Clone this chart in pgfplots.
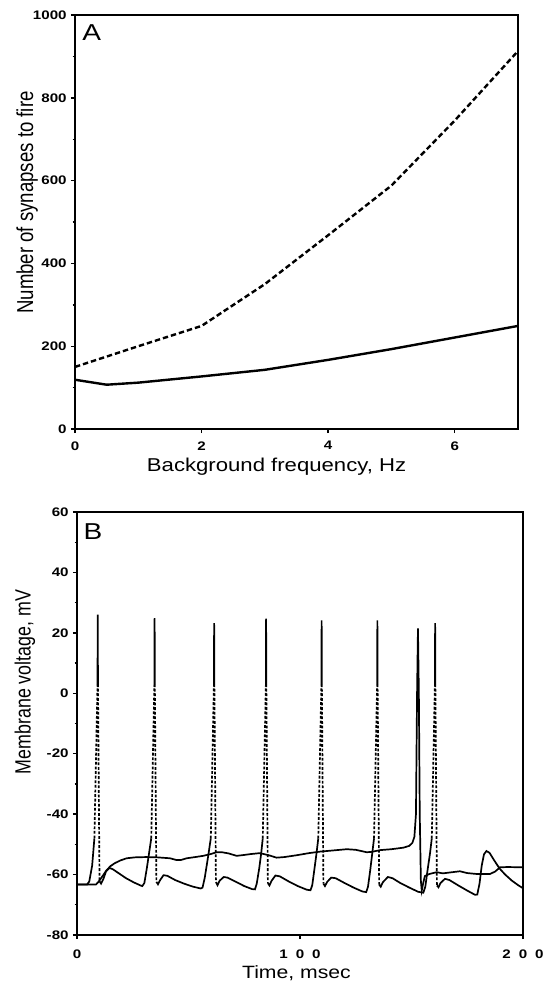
\documentclass[border=0pt]{standalone}
\usepackage{fontspec}
\usepackage{graphicx}
\usepackage{pgfplots}
\pgfplotsset{compat=1.18}
\setmainfont{Liberation Sans}
\newfontfamily\labfont{Liberation Sans}[FakeStretch=1.22]
\newfontfamily\xlabfont{Liberation Sans}[FakeStretch=1.19]
\newfontfamily\plainfont{Liberation Sans}
\pgfplotsset{
  panel/.style={
    scale only axis, tick pos=left, tick align=outside,
    major tick length=2pt, minor tick length=1.2pt,
    every tick/.style={black, line width=0.7pt},
    axis line style={line width=0.9pt},
    tick label style={font=\labfont\bfseries\fontsize{6.2}{7}\selectfont},
    xticklabel style={inner sep=1pt, yshift=-3pt},
    yticklabel style={inner sep=1pt, xshift=-1pt},
    clip=false,
  }
}
\begin{document}
\begin{tikzpicture}
\path[use as bounding box] (0,0) rectangle (279.5pt,-490.5pt);
% ---------------- Panel A ----------------
\begin{axis}[panel,
  at={(37.5pt,-214.5pt)}, anchor=south west,
  width=221.5pt, height=207pt,
  xmin=0, xmax=7, ymin=0, ymax=1000,
  xtick={0,2,4,6}, xticklabels={0,2,4,6},
  ytick={0,200,400,600,800,1000}, yticklabels={0,200,400,600,800,1000},
  minor ytick={100,300,500,700,900},
  xlabel={Background frequency, Hz},
  ylabel={\scalebox{1}[1.24]{Number of synapses to fire}},
  xlabel style={font=\xlabfont\fontsize{9.3}{11}\selectfont, at={(axis description cs:0.455,-0.092)}, anchor=center},
  ylabel style={font=\plainfont\fontsize{9.3}{11}\selectfont, at={(axis description cs:-0.108,0.547)}, anchor=center},
]
\addplot[black, line width=1.2pt, dash pattern=on 2.7pt off 1.5pt] coordinates {
 (0,150) (1,200) (2,249) (3,350) (4,468) (5,588) (6,745) (7,913)};
\addplot[black, line width=1.2pt] coordinates {
 (0,119) (0.5,107) (1,112) (2,127) (3,143) (4,167) (5,193) (6,221) (7,249)};
\node[font=\labfont\fontsize{11.5}{12}\selectfont] at (rel axis cs:0.038,0.957) {A};
\end{axis}
% ---------------- Panel B ----------------
\begin{axis}[panel,
  at={(38.5pt,-467.5pt)}, anchor=south west,
  width=223pt, height=211.5pt,
  xmin=0, xmax=200, ymin=-80, ymax=60,
  unbounded coords=jump,
  xtick={0,100,200}, xticklabels={0,1\hspace{4pt}0\hspace{4pt}0,2\hspace{4pt}0\hspace{4pt}0},
  xticklabel style={yshift=-1pt},
  ytick={-80,-60,-40,-20,0,20,40,60}, yticklabels={-80,-60,-40,-20,0,20,40,60},
  minor ytick={-70,-50,-30,-10,10,30,50},
  xlabel={Time, msec},
  ylabel={\scalebox{1}[1.24]{Membrane voltage, mV}},
  xlabel style={font=\xlabfont\fontsize{8.9}{10}\selectfont, at={(axis description cs:0.492,-0.09)}, anchor=center},
  ylabel style={font=\plainfont\fontsize{8.9}{10}\selectfont, at={(axis description cs:-0.117,0.598)}, anchor=center},
]
% regular-spiking trace: slow parts and spike tips (solid)
\addplot[black, line width=0.85pt] coordinates {
 (0,-63.3)(4.5,-63.3)(5.5,-62.3)(6.8,-57)(7.8,-48)
 (8,nan)
 (9.2,3)(9.3,26.0)(9.4,3)
 (9.5,nan)
 (10.1,-62.2)(10.8,-63)(11.8,-61.5)(13,-59)(14.5,-57.8)(16,-58.2)(19,-59.7)(22,-61.2)(25.5,-62.6)(28.5,-63.6)(29.3,-63.8)(30.2,-62.8)(31.3,-58)(32.3,-53)(33.3,-48)
 (33.5,nan)
 (34.7,3)(34.8,24.9)(34.9,3)
 (35,nan)
 (35.6,-62.4)(36.3,-63.2)(37.3,-61.8)(38.8,-60.2)(40.5,-60.4)(44,-61.8)(48,-63)(52,-64)(55.5,-64.6)(56.3,-64.3)(57.3,-61)(58.8,-54)(60.0,-48)
 (60.2,nan)
 (61.4,3)(61.5,23.2)(61.6,3)
 (61.7,nan)
 (62.3,-62.5)(63,-63.5)(64,-62)(65.8,-60.8)(67.5,-61)(71,-62.3)(75,-63.8)(78.5,-64.8)(79.8,-64.9)(80.6,-63)(81.7,-58)(82.6,-53)(83.3,-48)
 (83.5,nan)
 (84.7,3)(84.8,24.7)(84.9,3)
 (85,nan)
 (85.6,-62.8)(86.3,-63.6)(87.3,-62)(89,-60.3)(91,-60.6)(95,-62.3)(99,-63.8)(103,-65)(104.7,-65.2)(105.5,-63.5)(106.5,-58)(107.4,-53)(108.2,-48)
 (108.4,nan)
 (109.6,3)(109.7,24.1)(109.8,3)
 (109.9,nan)
 (110.5,-63)(111.2,-63.8)(112.2,-62.4)(114,-61)(116,-61.2)(120,-62.8)(124,-64.3)(128,-65.6)(129.7,-65.8)(130.5,-64)(131.5,-58.5)(132.4,-53)(133.2,-48)
 (133.4,nan)
 (134.6,3)(134.7,24.1)(134.8,3)
 (134.9,nan)
 (135.5,-63.3)(136.2,-64)(137.2,-62.5)(139.4,-60.8)(141.5,-61.2)(145,-62.8)(149,-64.3)(153,-65.7)(155.3,-66)(156.2,-64)(157.3,-58)(158.3,-53)(159.1,-48)
 (159.3,nan)
 (160.5,3)(160.6,23.2)(160.7,3)
 (160.8,nan)
 (161.4,-63.6)(162.1,-64.2)(163,-62.8)(165,-61.4)(167,-61.8)(171,-63.6)(175,-65.3)(178.5,-66.7)(179.5,-66.6)(180.5,-63)(181.5,-57)(182.5,-53.3)(183.6,-52.2)(185,-52.8)(187,-55.2)(189.5,-58)(192,-60)(195,-62)(198,-63.6)(200,-64.5)
};
% regular-spiking trace: spike rise and fall (dashed)
\addplot[black, line width=0.85pt, dash pattern=on 1.4pt off 0.9pt] coordinates {
 (7.8,-48)(9.2,3) (9.3,nan) (9.4,3)(10.1,-62.2) (10.2,nan)
 (33.3,-48)(34.7,3) (34.8,nan) (34.9,3)(35.6,-62.4) (35.7,nan)
 (60.0,-48)(61.4,3) (61.5,nan) (61.6,3)(62.3,-62.5) (62.4,nan)
 (83.3,-48)(84.7,3) (84.8,nan) (84.9,3)(85.6,-62.8) (85.7,nan)
 (108.2,-48)(109.6,3) (109.7,nan) (109.8,3)(110.5,-63) (110.6,nan)
 (133.2,-48)(134.6,3) (134.7,nan) (134.8,3)(135.5,-63.3) (135.6,nan)
 (159.1,-48)(160.5,3) (160.6,nan) (160.7,3)(161.4,-63.6)
};
% slowly depolarising trace
\addplot[black, line width=0.85pt] coordinates {
 (0,-63.3)(8.5,-63.3)(9.5,-62.5)(11,-61)(13,-58.8)(15,-57.2)(17,-56.2)(19.5,-55.3)(22.3,-54.6)(26,-54.3)(31,-54.2)(36,-54.3)(41.7,-54.6)(44.7,-55.2)(46.5,-55.2)(49.2,-54.6)(53,-54.2)(56.6,-53.8)(60,-53.2)(62.6,-52.6)(65,-52.6)(68,-53)(71.6,-53.8)(75,-53.5)(78,-53.2)(82,-52.9)(86,-53.6)(89.5,-54.4)(93,-54.2)(98.5,-53.6)(104,-52.9)(109,-52.4)(115,-52)(121,-51.6)(125,-51.8)(129.9,-52.6)(132,-52.5)(136,-51.9)(141,-51.6)(146.3,-51.1)(149,-50.5)(150.4,-49.5)(151.3,-47.5)(152.0,-40)(152.5,0)(152.9,21.5)(153.3,0)(153.7,-40)(154.2,-62)(154.6,-65.3)(155.2,-63)(156,-60.5)(158,-59.8)(161.3,-59.2)(164,-59.6)(167.3,-59.3)(171.7,-58.9)(175,-59.5)(179.2,-59.8)(185.2,-59.8)(187.5,-59)(189.7,-57.6)(193,-57.5)(200,-57.6)
};
\node[font=\labfont\fontsize{11.5}{12}\selectfont] at (rel axis cs:0.036,0.954) {B};
\end{axis}
\end{tikzpicture}
\end{document}
